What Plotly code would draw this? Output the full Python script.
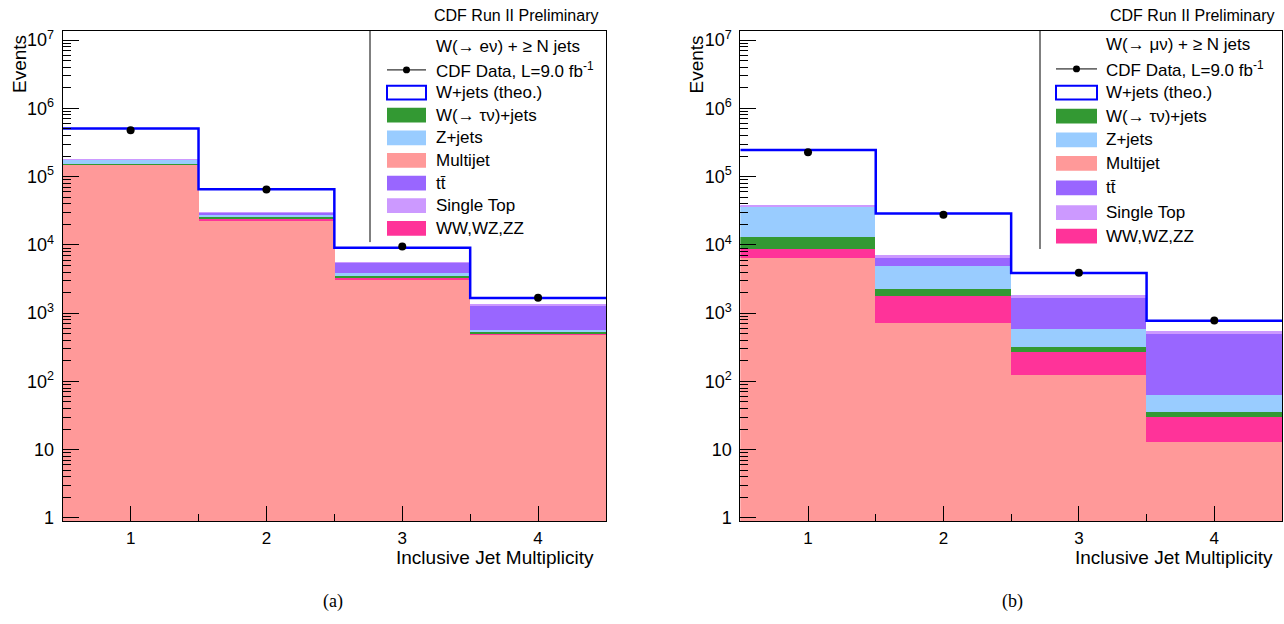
import plotly.graph_objects as go

# ---------------- data ----------------
jets = [1, 2, 3, 4]

# (a) W -> e nu
multijet_e = [1.51e5, 2.28e4, 3180, 500]
diboson_e = [400, 1600, 180, 15]
wtau_e = [2500, 1400, 190, 20]
zjets_e = [2.4e4, 2300, 330, 40]
ttbar_e = [300, 1900, 1650, 740]
stop_e = [4000, 700, 250, 50]
wjets_e = [3.23e5, 3.46e4, 3320, 295]
data_e = [4.79e5, 6.5e4, 9.5e3, 1.68e3]

# (b) W -> mu nu
multijet_m = [6500, 720, 128, 13.1]
diboson_m = [2400, 1110, 147, 17.7]
wtau_m = [4500, 470, 47, 5.2]
zjets_m = [23600, 2650, 272, 28]
ttbar_m = [400, 1650, 1100, 454]
stop_m = [1600, 600, 160, 30]
wjets_m = [2.06e5, 2.16e4, 2026, 227]
data_m = [2.27e5, 2.76e4, 3.9e3, 780]

proc_names = ["Multijet", "WW,WZ,ZZ", "W(→ τν)+jets", "Z+jets", "tt̄", "Single Top"]
proc_colors = ["#ff9999", "#ff3399", "#339933", "#99ccff", "#9966ff", "#cc99ff"]

y_tick_vals = [1, 10, 100, 1e3, 1e4, 1e5, 1e6, 1e7]
y_tick_text = ["1", "10", "10<sup>2</sup>", "10<sup>3</sup>", "10<sup>4</sup>",
               "10<sup>5</sup>", "10<sup>6</sup>", "10<sup>7</sup>"]

W, H = 1284, 624
FONT = "Liberation Sans"


def px(x):
    return x / W


def py(y):
    return 1 - y / H


fig = go.Figure()

panels = [
    dict(ax="x", ay="y", comps=[multijet_e, diboson_e, wtau_e, zjets_e, ttbar_e, stop_e],
         wjets=wjets_e, data=data_e),
    dict(ax="x2", ay="y2", comps=[multijet_m, diboson_m, wtau_m, zjets_m, ttbar_m, stop_m],
         wjets=wjets_m, data=data_m),
]

edges = [j - 0.5 for j in jets] + [jets[-1] + 0.5]

for p in panels:
    for vals, name, col in zip(p["comps"], proc_names, proc_colors):
        fig.add_bar(x=jets, y=vals, width=1, marker_color=col, marker_line_width=0,
                    name=name, xaxis=p["ax"], yaxis=p["ay"], showlegend=False)
    fig.add_bar(x=jets, y=p["wjets"], width=1, marker_color="white", marker_line_width=0,
                name="W+jets", xaxis=p["ax"], yaxis=p["ay"], showlegend=False)
    totals = [sum(c[i] for c in p["comps"]) + p["wjets"][i] for i in range(len(jets))]
    fig.add_scatter(x=edges, y=totals + [totals[-1]], mode="lines", line_shape="hv",
                    line=dict(color="#0000ff", width=2.5), xaxis=p["ax"], yaxis=p["ay"],
                    showlegend=False, hoverinfo="skip")
    fig.add_scatter(x=jets, y=p["data"], mode="markers",
                    marker=dict(color="black", size=8), xaxis=p["ax"], yaxis=p["ay"],
                    showlegend=False, name="CDF Data")

minor_y = []
for d in range(0, 8):
    for m in range(2, 10):
        minor_y.append(m * 10 ** d)

common_x = dict(range=[0.5, 4.5], tickmode="array", tickvals=jets, ticks="inside", ticklen=15,
                tickcolor="black", tickwidth=1,
                minor=dict(tickmode="array", tickvals=[1.5, 2.5, 3.5], ticks="inside", ticklen=7,
                           tickcolor="black", showgrid=False),
                showline=True, linecolor="black", linewidth=1, mirror=True,
                showgrid=False, zeroline=False, ticklabelstandoff=1,
                tickfont=dict(family=FONT, size=17, color="black"))
common_y = dict(type="log", range=[-0.049, 7.14], tickmode="array", tickvals=y_tick_vals,
                ticktext=y_tick_text, ticks="inside", ticklen=16, tickcolor="black", tickwidth=1,
                minor=dict(tickmode="array", tickvals=minor_y, ticks="inside", ticklen=8,
                           tickcolor="black", showgrid=False),
                showline=True, linecolor="black", linewidth=1, mirror=True,
                showgrid=False, zeroline=False, ticklabelstandoff=4,
                tickfont=dict(family=FONT, size=18, color="black"),
                domain=[py(526.7), py(28)])

fig.update_layout(
    width=W, height=H, margin=dict(l=0, r=0, t=0, b=0),
    plot_bgcolor="white", paper_bgcolor="white",
    barmode="stack", bargap=0, showlegend=False,
    xaxis=dict(common_x, domain=[px(62.7), px(606)], anchor="y"),
    yaxis=dict(common_y, anchor="x"),
    xaxis2=dict(common_x, domain=[px(740.3), px(1282)], anchor="y2"),
    yaxis2=dict(common_y, anchor="x2"),
    font=dict(family=FONT, color="black"),
)

shapes = []
annots = []

legend_cfg = [
    dict(left=370, bottom=243, rows=[44, 68, 91, 114, 137, 160, 183, 206, 229],
         bx0=387, bx1=426, tx=434, header="W(→ eν) + ≥ N jets"),
    dict(left=1040, bottom=250, rows=[42, 67, 91, 115, 139, 163, 188, 213, 237],
         bx0=1056, bx1=1097, tx=1104, header="W(→ μν) + ≥ N jets"),
]

legend_order = [("W(→ τν)+jets", "#339933"), ("Z+jets", "#99ccff"), ("Multijet", "#ff9999"),
                ("tt̄", "#9966ff"), ("Single Top", "#cc99ff"), ("WW,WZ,ZZ", "#ff3399")]

for cfg in legend_cfg:
    # legend border (left side; top/right coincide with frame)
    shapes.append(dict(type="line", xref="paper", yref="paper", x0=px(cfg["left"]), x1=px(cfg["left"]),
                       y0=py(28), y1=py(cfg["bottom"]), line=dict(color="black", width=1)))
    rows = cfg["rows"]
    annots.append(dict(x=px(cfg["tx"]), y=py(rows[0]), xref="paper", yref="paper", text=cfg["header"],
                       showarrow=False, xanchor="left", yanchor="middle",
                       font=dict(family=FONT, size=17, color="black")))
    # data entry
    shapes.append(dict(type="line", xref="paper", yref="paper", x0=px(cfg["bx0"]), x1=px(cfg["bx1"]),
                       y0=py(rows[1]), y1=py(rows[1]), line=dict(color="black", width=1)))
    cx = (cfg["bx0"] + cfg["bx1"]) / 2
    shapes.append(dict(type="circle", xref="paper", yref="paper", x0=px(cx - 3.5), x1=px(cx + 3.5),
                       y0=py(rows[1] - 3.5), y1=py(rows[1] + 3.5), fillcolor="black",
                       line=dict(color="black", width=0)))
    annots.append(dict(x=px(cfg["tx"]), y=py(rows[1]), xref="paper", yref="paper",
                       text="CDF Data, L=9.0 fb<sup>-1</sup>", showarrow=False, xanchor="left",
                       yanchor="middle", font=dict(family=FONT, size=17, color="black")))
    # W+jets
    shapes.append(dict(type="rect", xref="paper", yref="paper", x0=px(cfg["bx0"]), x1=px(cfg["bx1"]),
                       y0=py(rows[2] - 7), y1=py(rows[2] + 7), fillcolor="white",
                       line=dict(color="#0000ff", width=2)))
    annots.append(dict(x=px(cfg["tx"]), y=py(rows[2]), xref="paper", yref="paper",
                       text="W+jets (theo.)", showarrow=False, xanchor="left", yanchor="middle",
                       font=dict(family=FONT, size=17, color="black")))
    for (name, col), ry in zip(legend_order, rows[3:]):
        shapes.append(dict(type="rect", xref="paper", yref="paper", x0=px(cfg["bx0"]), x1=px(cfg["bx1"]),
                           y0=py(ry - 7.5), y1=py(ry + 7.5), fillcolor=col, line=dict(width=0)))
        annots.append(dict(x=px(cfg["tx"]), y=py(ry), xref="paper", yref="paper", text=name,
                           showarrow=False, xanchor="left", yanchor="middle",
                           font=dict(family=FONT, size=17, color="black")))

# panel texts
for right_x, title_right, ev_x, cap_x, cap in [(600, 596, 19.5, 333, "(a)"), (1276, 1275, 697, 1012, "(b)")]:
    annots.append(dict(x=px(right_x), y=py(13), xref="paper", yref="paper", text="CDF Run II Preliminary",
                       showarrow=False, xanchor="right", yanchor="middle",
                       font=dict(family=FONT, size=16, color="black")))
    annots.append(dict(x=px(title_right), y=py(564), xref="paper", yref="paper",
                       text="Inclusive Jet Multiplicity", showarrow=False, xanchor="right",
                       yanchor="middle", font=dict(family=FONT, size=19, color="black")))
    annots.append(dict(x=px(ev_x), y=py(31), xref="paper", yref="paper", text="Events",
                       showarrow=False, textangle=-90, xanchor="center", yanchor="top",
                       font=dict(family=FONT, size=19, color="black")))
    annots.append(dict(x=px(cap_x), y=py(608), xref="paper", yref="paper", text=cap,
                       showarrow=False, xanchor="center", yanchor="middle",
                       font=dict(family="Liberation Serif", size=18, color="black")))

fig.update_layout(shapes=shapes, annotations=annots)

fig.write_html("out.html", config={"displayModeBar": False},
               post_script="document.body.style.margin='0';document.body.style.overflow='hidden';")
